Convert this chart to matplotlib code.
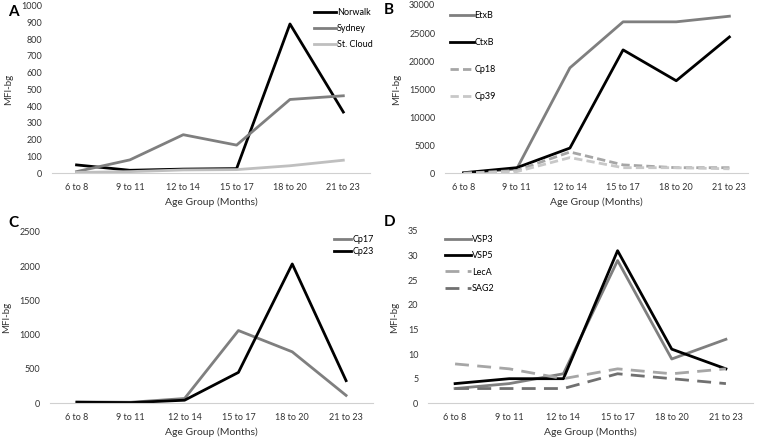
import matplotlib
matplotlib.use("Agg")
import matplotlib.pyplot as plt

plt.rcParams['font.family'] = ['Lato', 'DejaVu Sans']

age_groups = ["6 to 8", "9 to 11", "12 to 14", "15 to 17", "18 to 20", "21 to 23"]

# panel A - norovirus
norwalk = [50, 18, 25, 28, 890, 365]
sydney = [10, 80, 230, 168, 440, 462]
st_cloud = [5, 10, 20, 22, 45, 78]

# panel B - enterotoxins / Cryptosporidium
etxb = [0, 800, 18800, 27000, 27000, 28000]
ctxb = [100, 1000, 4500, 22000, 16500, 24300]
cp18 = [0, 500, 3800, 1500, 1000, 1000]
cp39 = [0, 300, 2800, 1000, 1000, 800]

# panel C
cp17 = [20, 15, 70, 1060, 750, 115]
cp23 = [15, 10, 45, 450, 2030, 330]

# panel D
vsp3 = [3, 4, 6, 29, 9, 13]
vsp5 = [4, 5, 5, 31, 11, 7]
leca = [8, 7, 5, 7, 6, 7]
sag2 = [3, 3, 3, 6, 5, 4]

W, H = 757, 438
fig = plt.figure(figsize=(W / 100, H / 100), dpi=100)


def make_axes(x0, x1, ytop, ybot):
    return fig.add_axes([x0 / W, 1 - ybot / H, (x1 - x0) / W, (ybot - ytop) / H])


def style(ax, ymax, ystep, xlim):
    x = range(len(age_groups))
    ax.set_xlim(*xlim)
    ax.set_ylim(0, ymax)
    ax.set_yticks(range(0, ymax + 1, ystep))
    ax.set_xticks(list(x))
    ax.set_xticklabels(age_groups)
    for s in ["top", "right", "left"]:
        ax.spines[s].set_visible(False)
    ax.spines["bottom"].set_color("#d0d0d0")
    ax.spines["bottom"].set_linewidth(0.8)
    ax.tick_params(length=0, labelsize=6.5, colors="#333333")
    ax.tick_params(axis="x", pad=7)
    ax.tick_params(axis="y", pad=7)
    ax.set_xlabel("Age Group (Months)", fontsize=7.5, color="#333333", labelpad=4)
    ax.set_ylabel("MFI-bg", fontsize=7, color="#333333", labelpad=6)
    ax.patch.set_alpha(0)


x = list(range(len(age_groups)))
dark = "#7f7f7f"
light = "#bfbfbf"
mid = "#a6a6a6"

# A
axA = make_axes(52, 370, 5.5, 173.3)
axA.plot(x, norwalk, color="black", lw=2, label="Norwalk")
axA.plot(x, sydney, color=dark, lw=2, label="Sydney")
axA.plot(x, st_cloud, color=light, lw=2, label="St. Cloud")
style(axA, 1000, 100, (-0.46, 5.5))
axA.legend(loc="upper left", bbox_to_anchor=(306 / W, 1 - 0 / H), bbox_transform=fig.transFigure,
           frameon=False, fontsize=6.5, handlelength=2.4, handletextpad=0.1, labelspacing=0.75)
fig.text(8 / W, 1 - 12 / H, "A", fontsize=11, fontweight="bold", va="center")

# B
axB = make_axes(445, 748, 5, 173.3)
axB.plot(x, etxb, color=dark, lw=2, label="EtxB")
axB.plot(x, ctxb, color="black", lw=2, label="CtxB")
axB.plot(x, cp18, color=mid, lw=2, dashes=(3, 1.5), label="Cp18")
axB.plot(x, cp39, color="#c8c8c8", lw=2, dashes=(3, 1.5), label="Cp39")
style(axB, 30000, 5000, (-0.35, 5.35))
axB.legend(loc="upper left", bbox_to_anchor=(442 / W, 1 - 3 / H), bbox_transform=fig.transFigure,
           frameon=False, fontsize=6.5, handlelength=2.6, handletextpad=0.1, labelspacing=2.0)
fig.text(384 / W, 1 - 10 / H, "B", fontsize=11, fontweight="bold", va="center")

# C
axC = make_axes(50, 373, 231.7, 403.3)
axC.plot(x, cp17, color=dark, lw=2, label="Cp17")
axC.plot(x, cp23, color="black", lw=2, label="Cp23")
style(axC, 2500, 500, (-0.5, 5.5))
axC.legend(loc="upper left", bbox_to_anchor=(326 / W, 1 - 227 / H), bbox_transform=fig.transFigure,
           frameon=False, fontsize=6.5, handlelength=1.9, handletextpad=0.1, labelspacing=0.3)
fig.text(8 / W, 1 - 223 / H, "C", fontsize=11, fontweight="bold", va="center")

# D
axD = make_axes(428, 753, 231, 403.3)
axD.plot(x, vsp3, color=dark, lw=2, label="VSP3")
axD.plot(x, vsp5, color="black", lw=2, label="VSP5")
axD.plot(x, leca, color=mid, lw=2, dashes=(5, 3), label="LecA")
axD.plot(x, sag2, color="#707070", lw=2, dashes=(5, 3), label="SAG2")
style(axD, 35, 5, (-0.5, 5.5))
axD.legend(loc="upper left", bbox_to_anchor=(437 / W, 1 - 227 / H), bbox_transform=fig.transFigure,
           frameon=False, fontsize=6.5, handlelength=2.9, handletextpad=0.1, labelspacing=0.8)
fig.text(384 / W, 1 - 222 / H, "D", fontsize=11, fontweight="bold", va="center")

fig.savefig("out.png", dpi=100, facecolor="white")
